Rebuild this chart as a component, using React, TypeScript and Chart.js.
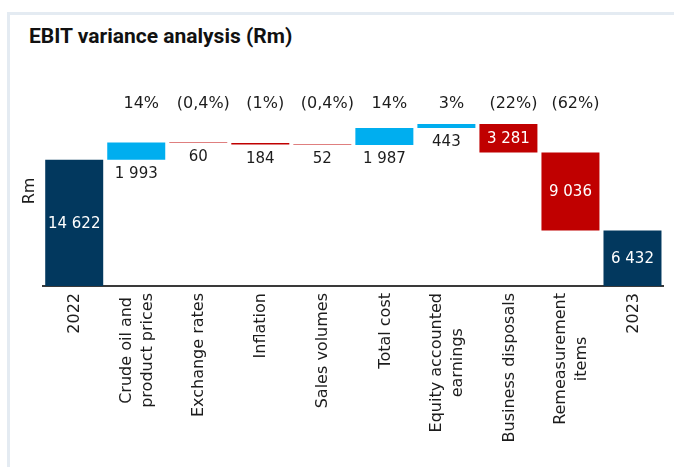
import React, { useEffect, useRef } from 'react';
import { Chart, registerables } from 'chart.js';

Chart.register(...registerables);

const categories: (string | string[])[] = [
  '2022',
  ['Crude oil and', 'product prices'],
  'Exchange rates',
  'Inflation',
  'Sales volumes',
  'Total cost',
  ['Equity accounted', 'earnings'],
  'Business disposals',
  ['Remeasurement', 'items'],
  '2023',
];
const changes = [14622, 1993, -60, -184, -52, 1987, 443, -3281, -9036, 6432];
const isTotal = [true, false, false, false, false, false, false, false, false, true];
const percentLabels = ['', '14%', '(0,4%)', '(1%)', '(0,4%)', '14%', '3%', '(22%)', '(62%)', ''];

const NAVY = '#02385e';
const BLUE = '#00aeef';
const RED = '#c00000';
const TEXT = '#1c1c1c';

function fmt(v: number): string {
  return Math.abs(v).toString().replace(/\B(?=(\d{3})+(?!\d))/g, ' ');
}

function buildRanges(): [number, number][] {
  let running = 0;
  return changes.map((v, i) => {
    if (isTotal[i]) {
      running = v;
      return [0, v] as [number, number];
    }
    const r: [number, number] = [running, running + v];
    running += v;
    return r;
  });
}

const labelPlugin = {
  id: 'waterfallLabels',
  afterDatasetsDraw(chart: any) {
    const ctx = chart.ctx;
    const meta = chart.getDatasetMeta(0);
    const area = chart.chartArea;
    const xScale = chart.scales.x;
    ctx.save();
    ctx.textAlign = 'center';
    ctx.textBaseline = 'middle';
    meta.data.forEach((bar: any, i: number) => {
      const p = bar.getProps(['x', 'y', 'base'], true);
      const top = Math.min(p.y, p.base);
      const bottom = Math.max(p.y, p.base);
      const h = bottom - top;
      const txt = fmt(changes[i]);
      ctx.font = '15px "DejaVu Sans"';
      if (isTotal[i] || h > 25) {
        ctx.fillStyle = '#ffffff';
        ctx.fillText(txt, p.x, (top + bottom) / 2 + 1);
      } else {
        ctx.fillStyle = TEXT;
        ctx.fillText(txt, p.x, bottom + 14);
      }
      if (percentLabels[i]) {
        ctx.font = '16px "DejaVu Sans"';
        ctx.fillStyle = TEXT;
        ctx.fillText(percentLabels[i], p.x + 5, area.top + 8);
      }
    });
    // category labels, rotated; multi-line blocks centred on the tick, lines centred within the block
    ctx.font = '16px "DejaVu Sans"';
    ctx.fillStyle = TEXT;
    ctx.textAlign = 'center';
    ctx.textBaseline = 'middle';
    const lh = 21;
    categories.forEach((c, i) => {
      const lines = Array.isArray(c) ? c : [c];
      const w = Math.max(...lines.map((l) => ctx.measureText(l).width));
      const x = xScale.getPixelForTick(i);
      ctx.save();
      ctx.translate(x + 1, xScale.top + 7);
      ctx.rotate(-Math.PI / 2);
      lines.forEach((line, j) => {
        ctx.fillText(line, -w / 2, (j - (lines.length - 1) / 2) * lh);
      });
      ctx.restore();
    });
    ctx.restore();
  },
};

export default function App() {
  const ref = useRef<HTMLCanvasElement | null>(null);

  useEffect(() => {
    if (!ref.current) return;
    const ranges = buildRanges();
    const colors = changes.map((v, i) => (isTotal[i] ? NAVY : v >= 0 ? BLUE : RED));
    const chart = new Chart(ref.current, {
      type: 'bar',
      data: {
        labels: categories as any,
        datasets: [
          {
            data: ranges as any,
            backgroundColor: colors,
            borderWidth: 0,
            barPercentage: 0.935,
            categoryPercentage: 1,
          },
        ],
      },
      options: {
        animation: false,
        responsive: false,
        devicePixelRatio: 1,
        layout: { padding: { left: 16, right: 10.5, top: 96, bottom: 0 } },
        plugins: {
          legend: { display: false },
          title: { display: false },
          tooltip: { enabled: false },
        },
        scales: {
          x: {
            grid: { display: false, drawTicks: false },
            border: { display: true, color: '#3a3a3a', width: 2 },
            ticks: { display: false },
            afterFit: (scale: any) => {
              scale.height = 181;
            },
          },
          y: {
            min: 0,
            max: 22000,
            ticks: { display: false },
            grid: { display: false, drawTicks: false },
            border: { display: false },
            title: {
              display: true,
              text: 'Rm',
              color: TEXT,
              font: { family: 'DejaVu Sans', size: 16 },
              padding: { top: 4, bottom: 4 },
            },
          },
        },
      },
      plugins: [labelPlugin],
    });
    return () => chart.destroy();
  }, []);

  return (
    <div style={{ position: 'absolute', left: 0, top: 0, width: 674, height: 467, background: '#fff', overflow: 'hidden' }}>
      <div
        style={{
          position: 'absolute',
          left: 7,
          top: 12,
          right: 0,
          bottom: 0,
          borderLeft: '3px solid #e4ebf2',
          borderTop: '3px solid #e4ebf2',
        }}
      />
      <div
        style={{
          position: 'absolute',
          left: 29,
          top: 25,
          font: 'bold 21px Roboto',
          lineHeight: '22px',
          color: '#111',
          whiteSpace: 'nowrap',
        }}
      >
        EBIT variance analysis (Rm)
      </div>
      <canvas ref={ref} width={674} height={467} style={{ position: 'absolute', left: 0, top: 0, width: 674, height: 467 }} />
    </div>
  );
}
